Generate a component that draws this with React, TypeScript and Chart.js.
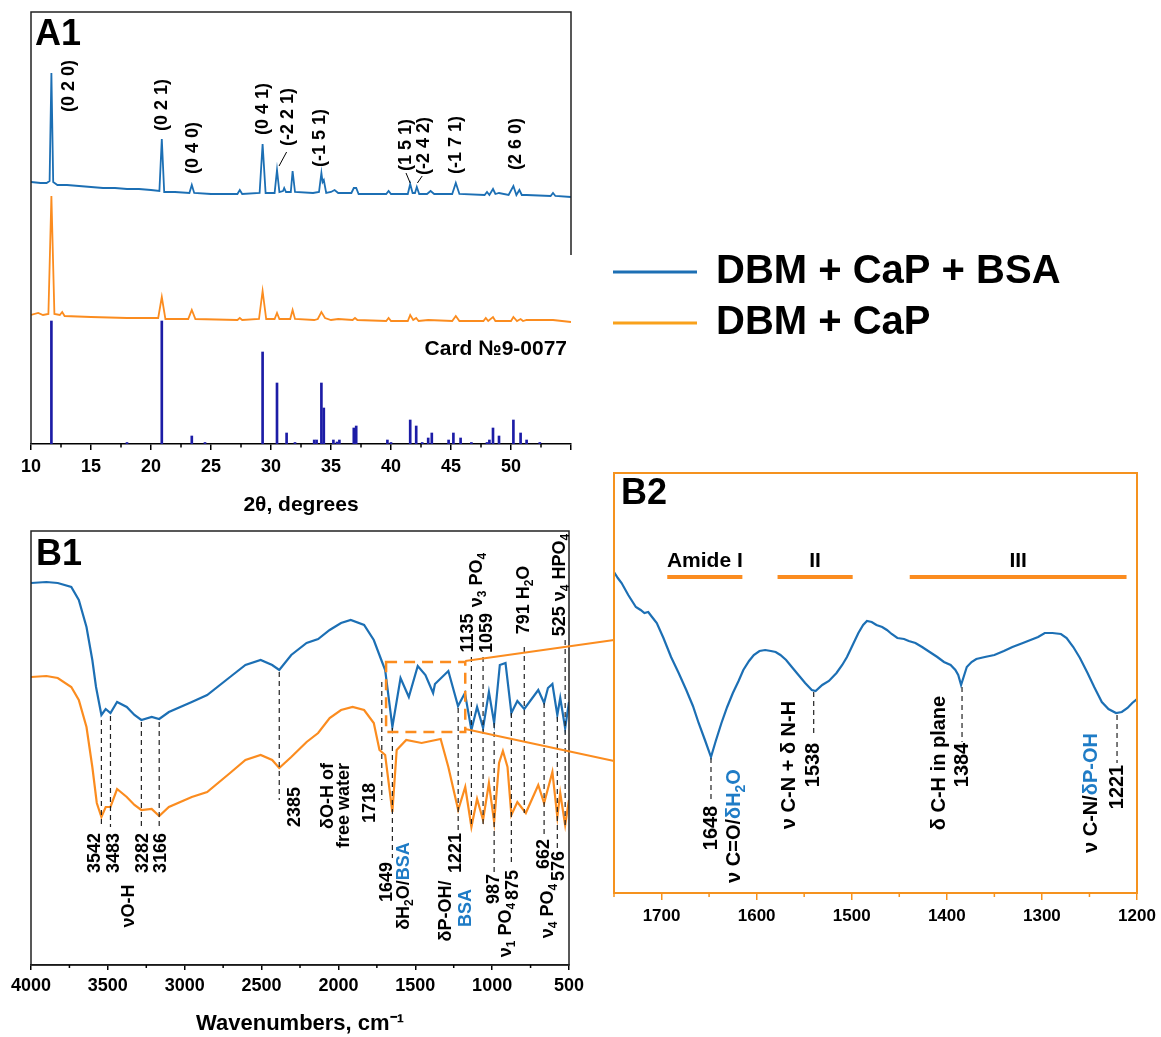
import React, { useEffect, useRef } from 'react';
import { Chart, registerables } from 'chart.js';

Chart.register(...registerables);

const FONT = '"Liberation Sans", Arial, Helvetica, sans-serif';
const BLUE = '#1c6fb4';
const ORANGE = '#fb8c1f';
const CARD = '#1c1ca6';
const LABEL_BLUE = '#1f7cc6';
const FRAME_ORANGE = '#f5921e';

type Pt = [number, number];
type Seg = { t: string; c?: string; sub?: boolean };
type Lbl = { x: number; y: number; s: Seg[]; a?: CanvasTextAlign };

// ---------------- A1: XRD ----------------
const xrdTicks = [10, 15, 20, 25, 30, 35, 40, 45, 50, 55];
const xrdMinor = [12.5, 17.5, 22.5, 27.5, 32.5, 37.5, 42.5, 47.5, 52.5];

const xrdBsa: Pt[] = [
  [10, 262], [10.8, 261], [11.3, 261], [11.55, 263], [11.7, 371], [11.85, 262], [12.2, 259], [13, 259],
  [14, 258], [15, 257], [16, 256], [17, 256], [18, 255], [19, 255], [20, 254], [20.7, 253], [20.9, 305],
  [21.1, 252], [22, 252], [23.2, 251], [23.4, 259], [23.6, 251], [25, 250], [27.2, 250], [27.4, 254],
  [27.6, 250], [29.05, 251], [29.3, 300], [29.55, 251], [30.3, 251], [30.5, 274], [30.7, 252], [31.0, 253],
  [31.1, 256], [31.25, 252], [31.65, 252], [31.8, 273], [32.0, 252], [33.5, 251], [34.0, 252], [34.2, 271],
  [34.3, 262], [34.4, 264], [34.6, 251], [35.0, 252], [35.3, 254], [35.6, 251], [36.7, 251], [36.9, 256],
  [37.1, 256], [37.3, 250], [39.6, 250], [39.8, 253], [40.0, 250], [41.4, 250], [41.6, 260], [41.8, 251],
  [42.0, 251], [42.15, 257], [42.35, 250], [43.0, 250], [43.3, 253], [43.6, 250], [45.1, 250], [45.4, 261],
  [45.7, 250], [47.8, 249], [48.0, 252], [48.2, 249], [48.5, 255], [48.7, 250], [49.0, 251], [49.8, 249],
  [50.2, 258], [50.45, 249], [50.7, 254], [50.9, 249], [51.3, 249], [53.3, 248], [53.5, 251], [53.7, 248],
  [55, 247],
];

const xrdCap: Pt[] = [
  [10, 129], [10.6, 131], [11.0, 129], [11.45, 130], [11.7, 248], [11.95, 130], [12.4, 129], [12.6, 132],
  [12.8, 128], [15, 127], [18, 126], [20.6, 126], [20.9, 147], [21.2, 125], [23.1, 125], [23.4, 134],
  [23.7, 125], [27.2, 124], [27.4, 126], [27.6, 124], [29.0, 125], [29.3, 153], [29.6, 125], [30.3, 125],
  [30.5, 131], [30.7, 125], [31.6, 125], [31.8, 134], [32.0, 125], [33.6, 124], [33.9, 125], [34.2, 132],
  [34.5, 126], [35.0, 124], [35.6, 125], [36.8, 124], [37.0, 126], [37.2, 124], [39.6, 123], [39.8, 126],
  [40.0, 123], [41.4, 123], [41.6, 129], [41.85, 124], [42.1, 126], [42.3, 123], [43.1, 124], [45.1, 123],
  [45.4, 128], [45.7, 123], [47.7, 123], [47.9, 126], [48.1, 123], [48.5, 127], [48.7, 123], [50.0, 123],
  [50.2, 127], [50.5, 123], [50.8, 125], [51.0, 123], [51.3, 124], [53.5, 124], [55, 122],
];

const cardPos = [11.7, 18.0, 20.9, 23.4, 24.5, 29.3, 30.5, 31.3, 32.0, 33.6, 33.8, 34.2, 34.4, 35.2, 35.5, 35.7,
  36.9, 37.1, 39.7, 40.0, 41.6, 42.1, 42.6, 43.1, 43.4, 44.8, 45.2, 45.8, 46.7, 48.0, 48.2, 48.5, 49.0, 50.2,
  50.8, 51.3, 52.4];
const cardInt = [123, 1.5, 123, 8, 1.5, 92, 61, 11, 1.5, 4, 4, 61, 36, 4, 2, 4,
  16, 18, 4, 1.5, 24, 18, 1.5, 6, 11, 4, 11, 6, 1.5, 1.5, 4, 16, 8, 24,
  11, 4, 1.5];

const millerText = ['(0 2 0)', '(0 2 1)', '(0 4 0)', '(0 4 1)', '(-2 2 1)', '(-1 5 1)', '(1 5 1)', '(-2 4 2)', '(-1 7 1)', '(2 6 0)'];
const millerX = [13.2, 20.92, 23.5, 29.33, 31.42, 34.08, 41.25, 42.75, 45.42, 50.42];
const millerY = [358, 339, 296, 335, 327, 306, 299, 298, 299, 300];
const millerLeaders: [number, number, number, number][] = [
  [31.3, 292, 30.67, 278], [41.25, 271, 41.6, 261], [42.6, 268, 42.2, 261],
];

// ---------------- B1: FTIR ----------------
const ftirTicks = [4000, 3500, 3000, 2500, 2000, 1500, 1000, 500];
const ftirMinor = [3750, 3250, 2750, 2250, 1750, 1250, 750];

const ftirBsa: Pt[] = [
  [4000, 382], [3900, 383], [3826, 382], [3738, 378], [3689, 365], [3639, 338], [3601, 305], [3577, 278],
  [3542, 250], [3514, 256], [3483, 252], [3440, 263], [3377, 258], [3327, 250], [3282, 245], [3215, 248],
  [3166, 246], [3103, 253], [2954, 263], [2854, 270], [2705, 288], [2605, 300], [2506, 305], [2431, 300],
  [2385, 295], [2307, 310], [2207, 322], [2132, 326], [2057, 335], [1983, 342], [1920, 345], [1833, 340],
  [1770, 325], [1721, 305], [1696, 295], [1649, 238], [1596, 287], [1542, 268], [1484, 299], [1434, 290],
  [1384, 272], [1372, 281], [1285, 294], [1222, 259], [1177, 272], [1135, 235], [1098, 258], [1059, 237],
  [1021, 273], [987, 242], [950, 300], [913, 302], [875, 252], [836, 264], [791, 256], [700, 275],
  [662, 262], [637, 277], [608, 281], [576, 250], [557, 267], [525, 237], [500, 263],
];

const ftirCap: Pt[] = [
  [4000, 288], [3900, 289], [3826, 287], [3738, 278], [3689, 265], [3639, 238], [3601, 198], [3572, 162],
  [3542, 148], [3514, 158], [3483, 158], [3440, 176], [3377, 168], [3327, 160], [3282, 155], [3215, 156],
  [3166, 149], [3103, 158], [2954, 168], [2854, 173], [2705, 192], [2605, 205], [2506, 210], [2431, 205],
  [2385, 197], [2307, 208], [2207, 223], [2132, 232], [2057, 247], [1983, 255], [1908, 258], [1833, 255],
  [1770, 242], [1733, 215], [1696, 210], [1649, 153], [1621, 215], [1559, 225], [1459, 222], [1335, 226],
  [1285, 198], [1221, 155], [1175, 178], [1135, 138], [1098, 166], [1059, 145], [1021, 182], [987, 143],
  [955, 202], [930, 214], [900, 198], [875, 150], [836, 163], [781, 152], [700, 180], [662, 162],
  [608, 193], [576, 148], [557, 172], [525, 140], [500, 165],
];

const b1Dashes: [number, number, number][] = [
  [3542, 245, 138], [3483, 249, 138], [3282, 243, 138], [3166, 243, 138], [2385, 293, 165],
  [1718, 283, 165], [1649, 237, 107], [1221, 257, 135], [1135, 308, 138], [1059, 308, 138],
  [987, 242, 92], [875, 252, 99], [791, 318, 152], [662, 262, 130], [576, 248, 115], [525, 325, 138],
];

const b1Labels: Lbl[] = [
  { x: 3582, y: 112, s: [{ t: '3542' }] },
  { x: 3457, y: 112, s: [{ t: '3483' }] },
  { x: 3273, y: 112, s: [{ t: '3282' }] },
  { x: 3153, y: 112, s: [{ t: '3166' }] },
  { x: 3365, y: 59, s: [{ t: 'νO-H' }] },
  { x: 2281, y: 158, s: [{ t: '2385' }] },
  { x: 2069, y: 202, a: 'right', s: [{ t: 'δO-H of' }] },
  { x: 1965, y: 202, a: 'right', s: [{ t: 'free water' }] },
  { x: 1795, y: 162, s: [{ t: '1718' }] },
  { x: 1683, y: 83, s: [{ t: '1649' }] },
  { x: 1571, y: 79, s: [{ t: 'δH' }, { t: '2', sub: true }, { t: 'O/' }, { t: 'BSA', c: LABEL_BLUE }] },
  { x: 1233, y: 112, s: [{ t: '1221' }] },
  { x: 1297, y: 54, s: [{ t: 'δP-OH/' }] },
  { x: 1173, y: 57, s: [{ t: 'BSA', c: LABEL_BLUE }] },
  { x: 986, y: 76, s: [{ t: '987' }] },
  { x: 861, y: 80, s: [{ t: '875' }] },
  { x: 911, y: 35, s: [{ t: 'ν' }, { t: '1', sub: true }, { t: ' PO' }, { t: '4', sub: true }] },
  { x: 662, y: 111, s: [{ t: '662' }] },
  { x: 562, y: 99, s: [{ t: '576' }] },
  { x: 637, y: 54, s: [{ t: 'ν' }, { t: '4', sub: true }, { t: ' PO' }, { t: '4', sub: true }] },
  { x: 1155, y: 332, s: [{ t: '1135' }] },
  { x: 1036, y: 332, s: [{ t: '1059' }] },
  { x: 1098, y: 385, s: [{ t: 'ν' }, { t: '3', sub: true }, { t: ' PO' }, { t: '4', sub: true }] },
  { x: 795, y: 365, s: [{ t: '791 H' }, { t: '2', sub: true }, { t: 'O' }] },
  { x: 556, y: 380, s: [{ t: '525 ν' }, { t: '4', sub: true }, { t: ' HPO' }, { t: '4', sub: true }] },
];

const zoomBox = [1690, 1175, 303, 233]; // wn from, wn to, top, bottom
const zoomLinks: [number, number, number, number][] = [
  [1175, 304, 207, 325],
  [1175, 236, 207, 204],
];

// ---------------- B2: FTIR zoom ----------------
const zoomTicks = [1700, 1600, 1500, 1400, 1300, 1200];
const zoomMinor = [1750, 1650, 1550, 1450, 1350, 1250];

const ftirZoom: Pt[] = [
  [1750, 321], [1746, 315], [1742, 310], [1735, 298], [1727, 286], [1722, 283], [1718, 280], [1714, 281],
  [1710, 276], [1705, 270], [1698, 255], [1690, 236], [1682, 220], [1674, 203], [1667, 187], [1661, 170],
  [1654, 152], [1648, 136], [1643, 152], [1637, 170], [1631, 186], [1625, 200], [1619, 212], [1614, 223],
  [1608, 232], [1603, 238], [1597, 242], [1591, 243], [1585, 242], [1580, 241], [1575, 238], [1569, 233],
  [1563, 226], [1556, 218], [1549, 210], [1542, 203], [1538, 202], [1531, 208], [1524, 212], [1516, 220],
  [1510, 228], [1505, 236], [1499, 248], [1493, 260], [1488, 268], [1484, 272], [1479, 271], [1474, 268],
  [1468, 266], [1463, 263], [1458, 259], [1452, 255], [1445, 254], [1440, 252], [1433, 250], [1426, 246],
  [1418, 241], [1410, 236], [1403, 231], [1396, 228], [1391, 223], [1388, 218], [1385, 208], [1382, 217],
  [1379, 226], [1374, 231], [1369, 234], [1360, 236], [1350, 238], [1340, 242], [1331, 246], [1320, 250],
  [1312, 253], [1304, 256], [1297, 260], [1289, 260], [1280, 259], [1274, 255], [1267, 246], [1260, 235],
  [1252, 220], [1245, 206], [1237, 191], [1230, 184], [1222, 180], [1216, 181], [1210, 185], [1205, 190],
  [1200, 194],
];

const b2Dashes: [number, number, number][] = [
  [1648, 135, 90], [1540, 201, 156], [1384, 206, 151], [1221, 178, 130],
];

const b2Labels: Lbl[] = [
  { x: 1648, y: 65, s: [{ t: '1648' }] },
  { x: 1623, y: 67, s: [{ t: 'ν C=O/' }, { t: 'δH', c: LABEL_BLUE }, { t: '2', sub: true, c: LABEL_BLUE }, { t: 'O', c: LABEL_BLUE }] },
  { x: 1540, y: 128, s: [{ t: '1538' }] },
  { x: 1565, y: 128, s: [{ t: 'ν C-N + δ N-H' }] },
  { x: 1384, y: 128, s: [{ t: '1384' }] },
  { x: 1408, y: 130, s: [{ t: 'δ C-H in plane' }] },
  { x: 1221, y: 106, s: [{ t: '1221' }] },
  { x: 1248, y: 100, s: [{ t: 'ν C-N/' }, { t: 'δP-OH', c: LABEL_BLUE }] },
];

const amideNames = ['Amide I', 'II', 'III'];
const amideFrom = [1694, 1578, 1439];
const amideTo = [1615, 1499, 1211];
const amideBarY = 316;
const amideTextY = 332;

// ---------------- helpers ----------------
function drawRich(ctx: CanvasRenderingContext2D, segs: Seg[], x: number, y: number, size: number, rot: number, align: CanvasTextAlign = 'center') {
  ctx.save();
  ctx.translate(x, y);
  ctx.rotate(rot);
  ctx.textBaseline = 'middle';
  ctx.textAlign = 'left';
  const fontFor = (s: Seg) => `bold ${s.sub ? Math.round(size * 0.68) : size}px ${FONT}`;
  let total = 0;
  const widths = segs.map((s) => {
    ctx.font = fontFor(s);
    const w = ctx.measureText(s.t).width;
    total += w;
    return w;
  });
  let cx = align === 'center' ? -total / 2 : align === 'right' ? -total : 0;
  segs.forEach((s, i) => {
    ctx.font = fontFor(s);
    ctx.fillStyle = s.c || '#000';
    ctx.fillText(s.t, cx, s.sub ? size * 0.32 : 0);
    cx += widths[i];
  });
  ctx.restore();
}

function minorTicks(chart: any, values: number[], len: number, color: string) {
  const { ctx, chartArea, scales } = chart;
  ctx.save();
  ctx.strokeStyle = color;
  ctx.lineWidth = 1.5;
  ctx.beginPath();
  values.forEach((v) => {
    const p = scales.x.getPixelForValue(v);
    ctx.moveTo(p, chartArea.bottom);
    ctx.lineTo(p, chartArea.bottom + len);
  });
  ctx.stroke();
  ctx.restore();
}

function dashes(chart: any, list: [number, number, number][]) {
  const { ctx, scales } = chart;
  ctx.save();
  ctx.strokeStyle = '#222';
  ctx.lineWidth = 1.2;
  ctx.setLineDash([5, 4]);
  ctx.beginPath();
  list.forEach(([x, y1, y2]) => {
    const px = scales.x.getPixelForValue(x);
    ctx.moveTo(px, scales.y.getPixelForValue(y1));
    ctx.lineTo(px, scales.y.getPixelForValue(y2));
  });
  ctx.stroke();
  ctx.restore();
}

function xAxis(o: { min: number; max: number; reverse?: boolean; ticks: number[]; hide?: number[]; height: number; color: string; size: number; pad: number; len: number; title?: string; titleSize?: number; titleBottom?: number }) {
  return {
    type: 'linear',
    min: o.min,
    max: o.max,
    offset: false,
    reverse: !!o.reverse,
    afterBuildTicks: (s: any) => { s.ticks = o.ticks.map((v) => ({ value: v })); },
    afterFit: (s: any) => { s.height = o.height; s.paddingLeft = 0; s.paddingRight = 0; },
    ticks: {
      autoSkip: false, maxRotation: 0, minRotation: 0, color: '#000', padding: o.pad,
      font: { family: FONT, size: o.size, weight: 'bold' },
      callback: (v: number) => ((o.hide || []).includes(v) ? '' : String(v)),
    },
    grid: { display: true, offset: false, drawOnChartArea: false, drawTicks: true, tickLength: o.len, color: o.color, lineWidth: 1.5 },
    border: { display: true, color: o.color, width: 1.5 },
    title: o.title
      ? { display: true, text: o.title, color: '#000', font: { family: FONT, size: o.titleSize, weight: 'bold' }, padding: { top: 4, bottom: o.titleBottom ?? 4 } }
      : { display: false },
  };
}

const lineDs = (pts: Pt[], color: string, width: number) => ({
  type: 'line',
  data: pts.map(([x, y]) => ({ x, y })),
  borderColor: color,
  backgroundColor: color,
  borderWidth: width,
  pointRadius: 0,
  tension: 0,
  fill: false,
});

const baseOpts = {
  responsive: false,
  animation: false,
  events: [],
  plugins: { legend: { display: false }, tooltip: { enabled: false } },
};

export default function App() {
  const a1 = useRef<HTMLCanvasElement>(null);
  const b1 = useRef<HTMLCanvasElement>(null);
  const b2 = useRef<HTMLCanvasElement>(null);

  useEffect(() => {
    const charts: Chart[] = [];

    // ---------- A1 ----------
    const a1Plugin = {
      id: 'a1deco',
      afterDraw(chart: any) {
        const { ctx, chartArea: ca, scales } = chart;
        const { x, y } = scales;
        ctx.save();
        ctx.strokeStyle = '#222';
        ctx.lineWidth = 1.5;
        ctx.beginPath();
        ctx.moveTo(ca.left, ca.bottom);
        ctx.lineTo(ca.left, ca.top);
        ctx.lineTo(ca.right, ca.top);
        ctx.lineTo(ca.right, y.getPixelForValue(189));
        ctx.stroke();
        ctx.restore();
        minorTicks(chart, xrdMinor, 3.5, '#000');
        millerText.forEach((t, i) => drawRich(ctx, [{ t }], x.getPixelForValue(millerX[i]), y.getPixelForValue(millerY[i]), 18, -Math.PI / 2));
        ctx.save();
        ctx.strokeStyle = '#000';
        ctx.lineWidth = 1;
        ctx.beginPath();
        millerLeaders.forEach(([x1, y1, x2, y2]) => {
          ctx.moveTo(x.getPixelForValue(x1), y.getPixelForValue(y1));
          ctx.lineTo(x.getPixelForValue(x2), y.getPixelForValue(y2));
        });
        ctx.stroke();
        ctx.restore();
        drawRich(ctx, [{ t: 'Card №9-0077' }], x.getPixelForValue(54.67), y.getPixelForValue(95), 21, 0, 'right');
        drawRich(ctx, [{ t: 'A1' }], ca.left + 4, ca.top + 23, 36, 0, 'left');
        // legend
        ctx.save();
        ctx.lineWidth = 3;
        ctx.strokeStyle = BLUE;
        ctx.beginPath(); ctx.moveTo(613, 272); ctx.lineTo(697, 272); ctx.stroke();
        ctx.strokeStyle = '#f9a11b';
        ctx.beginPath(); ctx.moveTo(613, 323); ctx.lineTo(697, 323); ctx.stroke();
        ctx.restore();
        drawRich(ctx, [{ t: 'DBM + CaP + BSA' }], 716, 272, 40, 0, 'left');
        drawRich(ctx, [{ t: 'DBM + CaP' }], 716, 323, 40, 0, 'left');
      },
    };

    charts.push(new Chart(a1.current as HTMLCanvasElement, {
      type: 'line',
      data: {
        datasets: [
          lineDs(xrdBsa, BLUE, 1.8),
          lineDs(xrdCap, ORANGE, 1.8),
          {
            type: 'bar',
            data: cardPos.map((x, i) => ({ x, y: cardInt[i] })),
            backgroundColor: CARD,
            borderWidth: 0,
            barThickness: 2,
          },
        ],
      } as any,
      options: {
        ...baseOpts,
        layout: { padding: { left: 31, right: 1161 - 571, top: 12, bottom: 0 } },
        scales: {
          x: xAxis({ min: 10, max: 55, ticks: xrdTicks, hide: [55], height: 78, color: '#000', size: 18, pad: 6, len: 6, title: '2θ, degrees', titleSize: 21 }),
          y: { display: false, min: 0, max: 432 },
        },
      } as any,
      plugins: [a1Plugin],
    }));

    // ---------- B1 ----------
    const b1Plugin = {
      id: 'b1deco',
      afterDraw(chart: any) {
        const { ctx, chartArea: ca, scales } = chart;
        const { x, y } = scales;
        ctx.save();
        ctx.strokeStyle = '#222';
        ctx.lineWidth = 1.5;
        ctx.strokeRect(ca.left, ca.top, ca.right - ca.left, ca.bottom - ca.top);
        ctx.restore();
        minorTicks(chart, ftirMinor, 3, '#000');
        dashes(chart, b1Dashes);
        b1Labels.forEach((l) => drawRich(ctx, l.s, x.getPixelForValue(l.x), y.getPixelForValue(l.y), 18, -Math.PI / 2, l.a || 'center'));
        // zoom box and links
        ctx.save();
        ctx.strokeStyle = ORANGE;
        ctx.lineWidth = 2.5;
        ctx.setLineDash([11, 7]);
        const bx1 = x.getPixelForValue(zoomBox[0]);
        const bx2 = x.getPixelForValue(zoomBox[1]);
        const by1 = y.getPixelForValue(zoomBox[2]);
        const by2 = y.getPixelForValue(zoomBox[3]);
        ctx.strokeRect(bx1, by1, bx2 - bx1, by2 - by1);
        ctx.setLineDash([]);
        ctx.lineWidth = 1.8;
        ctx.beginPath();
        zoomLinks.forEach(([x1, y1, x2, y2]) => {
          ctx.moveTo(x.getPixelForValue(x1), y.getPixelForValue(y1));
          ctx.lineTo(x.getPixelForValue(x2), y.getPixelForValue(y2));
        });
        ctx.stroke();
        ctx.restore();
        drawRich(ctx, [{ t: 'B1' }], ca.left + 5, ca.top + 24, 36, 0, 'left');
      },
    };

    charts.push(new Chart(b1.current as HTMLCanvasElement, {
      type: 'line',
      data: { datasets: [lineDs(ftirBsa, BLUE, 2.2), lineDs(ftirCap, ORANGE, 2.2)] } as any,
      options: {
        ...baseOpts,
        layout: { padding: { left: 31, right: 625 - 569, top: 11, bottom: 0 } },
        scales: {
          x: xAxis({ min: 500, max: 4000, reverse: true, ticks: ftirTicks, height: 72, color: '#000', size: 18, pad: 5, len: 5, title: 'Wavenumbers, cm\u207B\u00B9', titleSize: 22, titleBottom: 0 }),
          y: { display: false, min: 0, max: 434 },
        },
      } as any,
      plugins: [b1Plugin],
    }));

    // ---------- B2 ----------
    const b2Plugin = {
      id: 'b2deco',
      afterDraw(chart: any) {
        const { ctx, chartArea: ca, scales } = chart;
        const { x, y } = scales;
        ctx.save();
        ctx.strokeStyle = FRAME_ORANGE;
        ctx.lineWidth = 2;
        ctx.strokeRect(ca.left, ca.top, ca.right - ca.left, ca.bottom - ca.top);
        ctx.restore();
        minorTicks(chart, zoomMinor, 4, FRAME_ORANGE);
        dashes(chart, b2Dashes);
        b2Labels.forEach((l) => drawRich(ctx, l.s, x.getPixelForValue(l.x), y.getPixelForValue(l.y), 20, -Math.PI / 2, l.a || 'center'));
        ctx.save();
        ctx.strokeStyle = ORANGE;
        ctx.lineWidth = 4;
        ctx.beginPath();
        amideFrom.forEach((f, i) => {
          ctx.moveTo(x.getPixelForValue(f), y.getPixelForValue(amideBarY));
          ctx.lineTo(x.getPixelForValue(amideTo[i]), y.getPixelForValue(amideBarY));
        });
        ctx.stroke();
        ctx.restore();
        amideNames.forEach((n, i) => drawRich(ctx, [{ t: n }], x.getPixelForValue((amideFrom[i] + amideTo[i]) / 2), y.getPixelForValue(amideTextY), 21, 0, 'center'));
        drawRich(ctx, [{ t: 'B2' }], ca.left + 7, ca.top + 21, 36, 0, 'left');
      },
    };

    charts.push(new Chart(b2.current as HTMLCanvasElement, {
      type: 'line',
      data: { datasets: [lineDs(ftirZoom, BLUE, 2.2)] } as any,
      options: {
        ...baseOpts,
        layout: { padding: { left: 14, right: 561 - 537, top: 13, bottom: 0 } },
        scales: {
          x: xAxis({ min: 1200, max: 1750, reverse: true, ticks: zoomTicks, height: 37, color: FRAME_ORANGE, size: 17, pad: 6, len: 7 }),
          y: { display: false, min: 0, max: 420 },
        },
      } as any,
      plugins: [b2Plugin],
    }));

    return () => charts.forEach((c) => c.destroy());
  }, []);

  return (
    <div style={{ position: 'absolute', left: 0, top: 0, width: 1161, height: 1037, background: '#fff', overflow: 'hidden' }}>
      <canvas ref={a1} width={1161} height={522} style={{ position: 'absolute', left: 0, top: 0 }} />
      <canvas ref={b1} width={625} height={517} style={{ position: 'absolute', left: 0, top: 520 }} />
      <canvas ref={b2} width={561} height={470} style={{ position: 'absolute', left: 600, top: 460 }} />
    </div>
  );
}
